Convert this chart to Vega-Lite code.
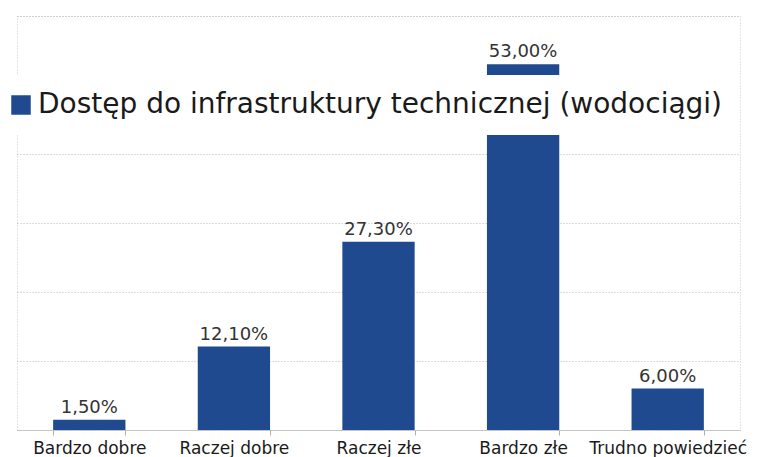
{
  "$schema": "https://vega.github.io/schema/vega-lite/v6.json",
  "width": 723,
  "height": 414,
  "autosize": {"type": "none"},
  "padding": {"left": 17, "top": 16, "right": 17, "bottom": 27},
  "background": "white",
  "config": {
    "font": "DejaVu Sans",
    "view": {"stroke": "#c8c8c8", "strokeDash": [1, 2], "strokeWidth": 1}
  },
  "data": {
    "values": [
      {"kategoria": "Bardzo dobre", "wartosc": 1.5, "etykieta": "1,50%", "seria": "Dostęp do infrastruktury technicznej (wodociągi)"},
      {"kategoria": "Raczej dobre", "wartosc": 12.1, "etykieta": "12,10%", "seria": "Dostęp do infrastruktury technicznej (wodociągi)"},
      {"kategoria": "Raczej złe", "wartosc": 27.3, "etykieta": "27,30%", "seria": "Dostęp do infrastruktury technicznej (wodociągi)"},
      {"kategoria": "Bardzo złe", "wartosc": 53.0, "etykieta": "53,00%", "seria": "Dostęp do infrastruktury technicznej (wodociągi)"},
      {"kategoria": "Trudno powiedzieć", "wartosc": 6.0, "etykieta": "6,00%", "seria": "Dostęp do infrastruktury technicznej (wodociągi)"}
    ]
  },
  "encoding": {
    "x": {
      "field": "kategoria",
      "type": "nominal",
      "sort": null,
      "scale": {"paddingInner": 0.5, "paddingOuter": 0.25},
      "axis": {
        "title": null,
        "labelAngle": 0,
        "labelFontSize": 17,
        "labelColor": "#1a1a1a",
        "labelPadding": 5,
        "tickBand": "extent",
        "tickColor": "#b0b0b0",
        "tickSize": 5,
        "domainColor": "#b0b0b0",
        "domainDash": [1, 1],
        "grid": false,
        "labelLimit": 220,
        "labelOverlap": false
      }
    },
    "y": {
      "field": "wartosc",
      "type": "quantitative",
      "scale": {"domain": [0, 60], "nice": false},
      "axis": {
        "title": null,
        "labels": false,
        "ticks": false,
        "domain": false,
        "values": [0, 10, 20, 30, 40, 50, 60],
        "grid": true,
        "gridColor": "#b8b8b8",
        "gridDash": [1, 2]
      }
    }
  },
  "layer": [
    {
      "mark": {"type": "bar", "color": "#1f4a8f"},
      "encoding": {
        "color": {
          "field": "seria",
          "type": "nominal",
          "scale": {"range": ["#1f4a8f"]},
          "legend": {
            "title": null,
            "orient": "none",
            "legendX": -26,
            "legendY": 59,
            "fillColor": "white",
            "padding": 16,
            "symbolType": "square",
            "symbolSize": 380,
            "symbolStrokeWidth": 0,
            "labelFontSize": 28,
            "labelFont": "DejaVu Sans",
            "labelColor": "#1a1a1a",
            "labelOffset": 3,
            "labelLimit": 800,
            "zindex": 1
          }
        }
      }
    },
    {
      "mark": {"type": "text", "dy": -12, "fontSize": 18, "color": "#333333"},
      "encoding": {"text": {"field": "etykieta"}}
    }
  ]
}
